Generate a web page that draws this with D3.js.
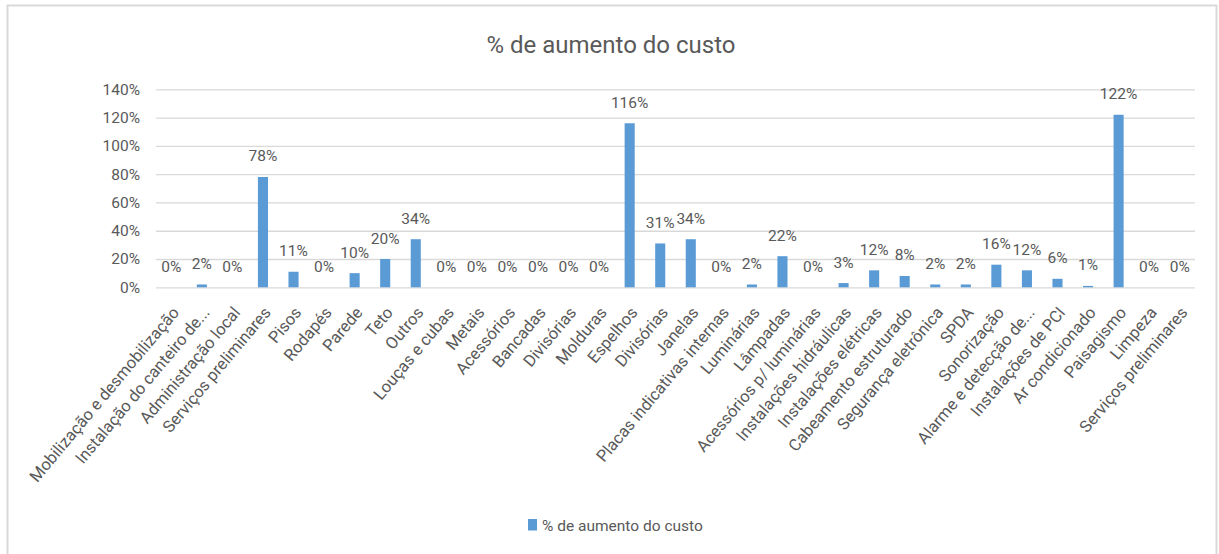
<!DOCTYPE html>
<html lang="pt">
<head>
  <meta charset="UTF-8">
  <title>% de aumento do custo</title>
  <script src="https://cdn.jsdelivr.net/npm/d3@7"></script>
  <style>
    body { margin: 0; background: #fff; }
    #chart { width: 1219px; height: 554px; }
    text { font-family: Roboto, "Noto Sans", sans-serif; fill: #595959; }
    .grid line { stroke: #d9d9d9; stroke-width: 1.3; }
    .grid .domain { display: none; }
  </style>
</head>
<body>
  <div id="chart"></div>
  <script>
    // Categories and values (% increase of cost)
    const categories = [
      'Mobilização e desmobilização', 'Instalação do canteiro de...', 'Administração local',
      'Serviços preliminares', 'Pisos', 'Rodapés', 'Parede', 'Teto', 'Outros',
      'Louças e cubas', 'Metais', 'Acessórios', 'Bancadas', 'Divisórias', 'Molduras',
      'Espelhos', 'Divisórias', 'Janelas', 'Placas indicativas internas', 'Luminárias',
      'Lâmpadas', 'Acessórios p/ luminárias', 'Instalações hidráulicas',
      'Instalações elétricas', 'Cabeamento estruturado', 'Segurança eletrônica', 'SPDA',
      'Sonorização', 'Alarme e detecção de...', 'Instalações de PCI', 'Ar condicionado',
      'Paisagismo', 'Limpeza', 'Serviços preliminares'
    ];
    const values = [
      0, 2, 0, 78, 11, 0, 10, 20, 34, 0, 0, 0, 0, 0, 0, 116, 31, 34, 0, 2, 22, 0, 3,
      12, 8, 2, 2, 16, 12, 6, 1, 122, 0, 0
    ];
    const yTicks = [0, 20, 40, 60, 80, 100, 120, 140];
    const seriesName = '% de aumento do custo';

    const width = 1219, height = 554;
    const margin = { left: 156, right: 24, top: 89.3, bottom: 266.7 };
    const plotW = width - margin.left - margin.right;
    const plotH = height - margin.top - margin.bottom;

    const svg = d3.select('#chart').append('svg')
      .attr('width', width)
      .attr('height', height);

    // chart frame
    svg.append('rect')
      .attr('x', 7.5).attr('y', 5.5)
      .attr('width', 1209).attr('height', 570)
      .attr('fill', 'none')
      .attr('stroke', '#d9d9d9')
      .attr('stroke-width', 2);

    // title
    svg.append('text')
      .attr('x', 611).attr('y', 52.5)
      .attr('text-anchor', 'middle')
      .style('font-size', '24px')
      .text(seriesName);

    const g = svg.append('g')
      .attr('transform', `translate(${margin.left},${margin.top})`);

    const x = d3.scaleBand()
      .domain(d3.range(categories.length))
      .range([0, plotW])
      .paddingInner(0.67)
      .paddingOuter(0.335);

    const y = d3.scaleLinear()
      .domain([0, 140])
      .range([plotH, 0]);

    // gridlines + y labels
    const yAxis = g.append('g')
      .attr('class', 'grid')
      .call(d3.axisLeft(y)
        .tickValues(yTicks)
        .tickSize(-plotW)
        .tickPadding(16)
        .tickFormat(d => d + '%'));
    yAxis.selectAll('text')
      .style('font-size', '15.5px')
      .attr('fill', '#595959');

    // bars
    g.append('g')
      .selectAll('rect')
      .data(values)
      .enter()
      .append('rect')
        .attr('x', (d, i) => x(i))
        .attr('y', d => y(d))
        .attr('width', x.bandwidth())
        .attr('height', d => y(0) - y(d))
        .attr('fill', '#5b9bd5');

    // data labels
    g.append('g')
      .selectAll('text')
      .data(values)
      .enter()
      .append('text')
        .attr('x', (d, i) => x(i) + x.bandwidth() / 2)
        .attr('y', d => y(d) - 15.5)
        .attr('text-anchor', 'middle')
        .style('font-size', '15.5px')
        .text(d => d + '%');

    // category axis
    const xAxis = g.append('g')
      .attr('class', 'grid')
      .attr('transform', `translate(0,${plotH})`)
      .call(d3.axisBottom(x)
        .tickSize(0)
        .tickFormat(i => categories[i]));
    xAxis.selectAll('text')
      .style('font-size', '16.5px')
      .attr('fill', '#595959')
      .attr('text-anchor', 'end')
      .attr('dy', '0.35em')
      .attr('transform', 'translate(2,20) rotate(-50)');

    // legend
    const legend = svg.append('g').attr('transform', 'translate(528,519)');
    legend.append('rect')
      .attr('width', 9).attr('height', 11.5)
      .attr('fill', '#5b9bd5');
    legend.append('text')
      .attr('x', 14).attr('y', 12)
      .style('font-size', '15.5px')
      .text(seriesName);
  </script>
</body>
</html>
